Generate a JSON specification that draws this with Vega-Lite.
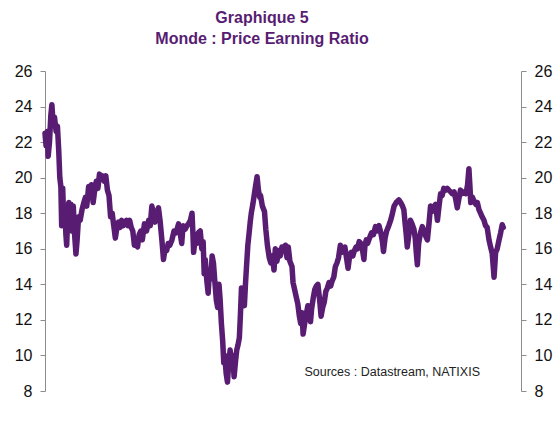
{
  "$schema": "https://vega.github.io/schema/vega-lite/v6.json",
  "width": 476,
  "height": 320,
  "autosize": {"type": "none"},
  "padding": {"left": 45, "top": 71, "right": 34, "bottom": 30},
  "background": "white",
  "config": {"view": {"stroke": null}, "font": "Liberation Sans"},
  "title": {
    "text": ["Graphique 5", "Monde : Price Earning Ratio"],
    "font": "Liberation Sans",
    "fontSize": 16,
    "fontWeight": "bold",
    "color": "#581d72",
    "lineHeight": 21,
    "anchor": "middle",
    "dx": -21,
    "offset": 16
  },
  "datasets": {
    "pe": [
      {"year": 2002.00, "pe": 22.5}, {"year": 2002.04, "pe": 21.8}, {"year": 2002.08, "pe": 22.6}, {"year": 2002.12, "pe": 21.2},
      {"year": 2002.17, "pe": 22.0}, {"year": 2002.22, "pe": 23.5}, {"year": 2002.26, "pe": 24.1}, {"year": 2002.30, "pe": 23.2},
      {"year": 2002.36, "pe": 23.4}, {"year": 2002.42, "pe": 22.6}, {"year": 2002.47, "pe": 22.9}, {"year": 2002.52, "pe": 21.5},
      {"year": 2002.56, "pe": 20.0}, {"year": 2002.60, "pe": 19.5}, {"year": 2002.63, "pe": 17.3}, {"year": 2002.67, "pe": 19.4},
      {"year": 2002.71, "pe": 17.5}, {"year": 2002.75, "pe": 18.4}, {"year": 2002.79, "pe": 16.8}, {"year": 2002.82, "pe": 16.2},
      {"year": 2002.86, "pe": 17.8}, {"year": 2002.90, "pe": 18.6}, {"year": 2002.94, "pe": 17.5}, {"year": 2002.98, "pe": 18.5},
      {"year": 2003.03, "pe": 17.0}, {"year": 2003.07, "pe": 18.4}, {"year": 2003.12, "pe": 16.8}, {"year": 2003.17, "pe": 15.7},
      {"year": 2003.21, "pe": 16.4}, {"year": 2003.27, "pe": 17.8}, {"year": 2003.33, "pe": 17.6}, {"year": 2003.40, "pe": 18.2},
      {"year": 2003.47, "pe": 18.6}, {"year": 2003.53, "pe": 18.9}, {"year": 2003.58, "pe": 18.4}, {"year": 2003.65, "pe": 19.5},
      {"year": 2003.70, "pe": 19.0}, {"year": 2003.76, "pe": 19.6}, {"year": 2003.82, "pe": 18.6}, {"year": 2003.88, "pe": 19.3},
      {"year": 2003.94, "pe": 19.8}, {"year": 2004.00, "pe": 19.4}, {"year": 2004.06, "pe": 20.2}, {"year": 2004.12, "pe": 19.9},
      {"year": 2004.18, "pe": 20.1}, {"year": 2004.24, "pe": 19.8}, {"year": 2004.30, "pe": 20.1}, {"year": 2004.36, "pe": 19.3},
      {"year": 2004.42, "pe": 19.0}, {"year": 2004.48, "pe": 17.8}, {"year": 2004.54, "pe": 18.0}, {"year": 2004.60, "pe": 17.3},
      {"year": 2004.66, "pe": 16.6}, {"year": 2004.72, "pe": 17.2}, {"year": 2004.78, "pe": 17.5}, {"year": 2004.84, "pe": 17.2},
      {"year": 2004.90, "pe": 17.6}, {"year": 2004.96, "pe": 17.3}, {"year": 2005.02, "pe": 17.5}, {"year": 2005.08, "pe": 17.6},
      {"year": 2005.14, "pe": 17.3}, {"year": 2005.20, "pe": 17.6}, {"year": 2005.26, "pe": 17.2}, {"year": 2005.32, "pe": 17.0},
      {"year": 2005.38, "pe": 16.2}, {"year": 2005.44, "pe": 16.3}, {"year": 2005.50, "pe": 16.1}, {"year": 2005.56, "pe": 16.8},
      {"year": 2005.62, "pe": 17.0}, {"year": 2005.68, "pe": 16.5}, {"year": 2005.76, "pe": 17.4}, {"year": 2005.84, "pe": 17.0},
      {"year": 2005.92, "pe": 17.6}, {"year": 2005.98, "pe": 17.3}, {"year": 2006.04, "pe": 18.4}, {"year": 2006.10, "pe": 18.0},
      {"year": 2006.16, "pe": 17.5}, {"year": 2006.22, "pe": 18.0}, {"year": 2006.29, "pe": 18.3}, {"year": 2006.35, "pe": 17.6},
      {"year": 2006.42, "pe": 16.5}, {"year": 2006.48, "pe": 15.4}, {"year": 2006.54, "pe": 16.0}, {"year": 2006.60, "pe": 15.9},
      {"year": 2006.66, "pe": 16.3}, {"year": 2006.72, "pe": 16.2}, {"year": 2006.80, "pe": 16.5}, {"year": 2006.88, "pe": 17.0},
      {"year": 2006.96, "pe": 16.9}, {"year": 2007.05, "pe": 17.4}, {"year": 2007.11, "pe": 16.9}, {"year": 2007.17, "pe": 16.3},
      {"year": 2007.22, "pe": 17.3}, {"year": 2007.30, "pe": 17.1}, {"year": 2007.37, "pe": 17.3}, {"year": 2007.43, "pe": 17.4},
      {"year": 2007.50, "pe": 17.6}, {"year": 2007.56, "pe": 18.0}, {"year": 2007.59, "pe": 17.0}, {"year": 2007.62, "pe": 15.8},
      {"year": 2007.68, "pe": 16.6}, {"year": 2007.74, "pe": 16.3}, {"year": 2007.80, "pe": 16.9}, {"year": 2007.87, "pe": 17.0},
      {"year": 2007.93, "pe": 16.0}, {"year": 2007.98, "pe": 16.4}, {"year": 2008.02, "pe": 14.6}, {"year": 2008.06, "pe": 15.4},
      {"year": 2008.12, "pe": 14.2}, {"year": 2008.17, "pe": 13.5}, {"year": 2008.22, "pe": 14.8}, {"year": 2008.27, "pe": 14.3},
      {"year": 2008.32, "pe": 15.6}, {"year": 2008.37, "pe": 15.2}, {"year": 2008.42, "pe": 14.2}, {"year": 2008.48, "pe": 13.1},
      {"year": 2008.53, "pe": 12.7}, {"year": 2008.58, "pe": 14.0}, {"year": 2008.62, "pe": 13.2}, {"year": 2008.67, "pe": 11.8},
      {"year": 2008.72, "pe": 10.8}, {"year": 2008.76, "pe": 9.6}, {"year": 2008.80, "pe": 10.0}, {"year": 2008.85, "pe": 9.0},
      {"year": 2008.90, "pe": 8.5}, {"year": 2008.94, "pe": 9.4}, {"year": 2009.00, "pe": 10.3}, {"year": 2009.05, "pe": 9.5},
      {"year": 2009.10, "pe": 10.0}, {"year": 2009.15, "pe": 8.8}, {"year": 2009.20, "pe": 9.6}, {"year": 2009.25, "pe": 10.3},
      {"year": 2009.30, "pe": 10.6}, {"year": 2009.35, "pe": 11.0}, {"year": 2009.39, "pe": 12.3}, {"year": 2009.43, "pe": 13.8},
      {"year": 2009.48, "pe": 13.2}, {"year": 2009.54, "pe": 12.8}, {"year": 2009.58, "pe": 14.0}, {"year": 2009.62, "pe": 15.0},
      {"year": 2009.67, "pe": 16.2}, {"year": 2009.72, "pe": 16.9}, {"year": 2009.76, "pe": 17.5}, {"year": 2009.80, "pe": 18.0},
      {"year": 2009.86, "pe": 18.5}, {"year": 2009.92, "pe": 19.1}, {"year": 2009.97, "pe": 19.6}, {"year": 2010.02, "pe": 20.05},
      {"year": 2010.07, "pe": 19.3}, {"year": 2010.12, "pe": 18.9}, {"year": 2010.15, "pe": 19.0}, {"year": 2010.22, "pe": 18.4},
      {"year": 2010.30, "pe": 18.1}, {"year": 2010.35, "pe": 17.1}, {"year": 2010.41, "pe": 16.2}, {"year": 2010.48, "pe": 15.5},
      {"year": 2010.54, "pe": 15.2}, {"year": 2010.60, "pe": 15.6}, {"year": 2010.66, "pe": 14.8}, {"year": 2010.71, "pe": 16.0},
      {"year": 2010.77, "pe": 15.3}, {"year": 2010.84, "pe": 15.9}, {"year": 2010.90, "pe": 15.6}, {"year": 2010.96, "pe": 16.1},
      {"year": 2011.02, "pe": 15.9}, {"year": 2011.09, "pe": 16.2}, {"year": 2011.15, "pe": 15.5}, {"year": 2011.20, "pe": 16.1},
      {"year": 2011.26, "pe": 15.3}, {"year": 2011.34, "pe": 15.0}, {"year": 2011.38, "pe": 14.1}, {"year": 2011.44, "pe": 13.7},
      {"year": 2011.50, "pe": 13.3}, {"year": 2011.56, "pe": 12.9}, {"year": 2011.62, "pe": 12.2}, {"year": 2011.67, "pe": 11.8},
      {"year": 2011.72, "pe": 12.4}, {"year": 2011.76, "pe": 11.2}, {"year": 2011.82, "pe": 11.8}, {"year": 2011.88, "pe": 12.3},
      {"year": 2011.94, "pe": 12.8}, {"year": 2012.00, "pe": 12.7}, {"year": 2012.04, "pe": 11.9}, {"year": 2012.08, "pe": 12.6},
      {"year": 2012.14, "pe": 13.2}, {"year": 2012.20, "pe": 13.7}, {"year": 2012.26, "pe": 13.9}, {"year": 2012.32, "pe": 14.0},
      {"year": 2012.38, "pe": 13.2}, {"year": 2012.44, "pe": 12.2}, {"year": 2012.50, "pe": 12.7}, {"year": 2012.56, "pe": 13.0},
      {"year": 2012.62, "pe": 13.6}, {"year": 2012.68, "pe": 13.8}, {"year": 2012.74, "pe": 14.1}, {"year": 2012.80, "pe": 13.9},
      {"year": 2012.86, "pe": 14.2}, {"year": 2012.92, "pe": 14.4}, {"year": 2012.98, "pe": 15.0}, {"year": 2013.04, "pe": 15.2},
      {"year": 2013.10, "pe": 15.5}, {"year": 2013.17, "pe": 16.2}, {"year": 2013.22, "pe": 15.8}, {"year": 2013.28, "pe": 15.9},
      {"year": 2013.34, "pe": 16.1}, {"year": 2013.40, "pe": 15.5}, {"year": 2013.46, "pe": 14.9}, {"year": 2013.52, "pe": 15.6},
      {"year": 2013.58, "pe": 15.8}, {"year": 2013.64, "pe": 15.6}, {"year": 2013.70, "pe": 15.9}, {"year": 2013.76, "pe": 16.1},
      {"year": 2013.82, "pe": 16.0}, {"year": 2013.88, "pe": 16.4}, {"year": 2013.94, "pe": 16.3}, {"year": 2014.00, "pe": 16.0},
      {"year": 2014.06, "pe": 15.4}, {"year": 2014.10, "pe": 16.2}, {"year": 2014.15, "pe": 16.5}, {"year": 2014.20, "pe": 16.3},
      {"year": 2014.27, "pe": 16.6}, {"year": 2014.35, "pe": 16.9}, {"year": 2014.42, "pe": 16.8}, {"year": 2014.50, "pe": 17.25},
      {"year": 2014.56, "pe": 17.0}, {"year": 2014.63, "pe": 17.3}, {"year": 2014.70, "pe": 16.9}, {"year": 2014.76, "pe": 16.4},
      {"year": 2014.80, "pe": 15.85}, {"year": 2014.86, "pe": 16.6}, {"year": 2014.92, "pe": 17.0}, {"year": 2015.00, "pe": 17.3},
      {"year": 2015.07, "pe": 17.6}, {"year": 2015.14, "pe": 18.0}, {"year": 2015.20, "pe": 18.4}, {"year": 2015.28, "pe": 18.6},
      {"year": 2015.38, "pe": 18.75}, {"year": 2015.45, "pe": 18.6}, {"year": 2015.52, "pe": 18.4}, {"year": 2015.57, "pe": 18.2},
      {"year": 2015.62, "pe": 17.4}, {"year": 2015.66, "pe": 16.8}, {"year": 2015.70, "pe": 16.1}, {"year": 2015.76, "pe": 16.8},
      {"year": 2015.82, "pe": 17.6}, {"year": 2015.88, "pe": 17.4}, {"year": 2015.95, "pe": 17.1}, {"year": 2016.00, "pe": 16.6},
      {"year": 2016.04, "pe": 15.8}, {"year": 2016.08, "pe": 15.1}, {"year": 2016.13, "pe": 16.3}, {"year": 2016.20, "pe": 16.9},
      {"year": 2016.27, "pe": 17.25}, {"year": 2016.33, "pe": 17.0}, {"year": 2016.40, "pe": 16.7}, {"year": 2016.46, "pe": 16.5},
      {"year": 2016.52, "pe": 17.4}, {"year": 2016.58, "pe": 18.4}, {"year": 2016.64, "pe": 18.1}, {"year": 2016.70, "pe": 18.3},
      {"year": 2016.77, "pe": 18.5}, {"year": 2016.84, "pe": 17.6}, {"year": 2016.90, "pe": 18.4}, {"year": 2016.96, "pe": 19.1},
      {"year": 2017.02, "pe": 19.0}, {"year": 2017.08, "pe": 19.4}, {"year": 2017.15, "pe": 19.3}, {"year": 2017.21, "pe": 19.4},
      {"year": 2017.27, "pe": 19.3}, {"year": 2017.34, "pe": 19.2}, {"year": 2017.40, "pe": 19.1}, {"year": 2017.47, "pe": 19.2},
      {"year": 2017.53, "pe": 18.8}, {"year": 2017.59, "pe": 18.3}, {"year": 2017.65, "pe": 18.8}, {"year": 2017.71, "pe": 19.3},
      {"year": 2017.78, "pe": 19.1}, {"year": 2017.85, "pe": 19.2}, {"year": 2017.92, "pe": 19.1}, {"year": 2017.98, "pe": 19.6},
      {"year": 2018.03, "pe": 20.5}, {"year": 2018.07, "pe": 19.5}, {"year": 2018.10, "pe": 18.6}, {"year": 2018.16, "pe": 18.9},
      {"year": 2018.22, "pe": 18.7}, {"year": 2018.29, "pe": 18.5}, {"year": 2018.35, "pe": 18.6}, {"year": 2018.41, "pe": 18.2},
      {"year": 2018.47, "pe": 18.0}, {"year": 2018.53, "pe": 17.8}, {"year": 2018.60, "pe": 17.6}, {"year": 2018.66, "pe": 17.3},
      {"year": 2018.72, "pe": 17.2}, {"year": 2018.79, "pe": 16.5}, {"year": 2018.85, "pe": 16.1}, {"year": 2018.91, "pe": 15.75},
      {"year": 2018.95, "pe": 15.0}, {"year": 2018.98, "pe": 14.4}, {"year": 2019.02, "pe": 15.3}, {"year": 2019.04, "pe": 15.8},
      {"year": 2019.10, "pe": 16.0}, {"year": 2019.17, "pe": 16.5}, {"year": 2019.23, "pe": 16.9}, {"year": 2019.29, "pe": 17.35},
      {"year": 2019.33, "pe": 17.2}
    ],
    "note": [{"year": 2015.13, "pe": 9.05, "label": "Sources  : Datastream,  NATIXIS"}]
  },
  "layer": [
    {
      "data": {"name": "pe"},
      "mark": {"type": "line", "color": "#581d72", "strokeWidth": 5.5, "strokeJoin": "round", "strokeCap": "round"},
      "encoding": {
        "x": {
          "field": "year", "type": "quantitative",
          "scale": {"domain": [2002, 2020], "nice": false, "zero": false},
          "axis": {
            "title": null, "values": [2002, 2004, 2006, 2008, 2010, 2012, 2014, 2016, 2018],
            "labelExpr": "substring(toString(datum.value), 2, 4)",
            "grid": false, "domainColor": "#8c8c8c", "tickColor": "#8c8c8c", "tickSize": 5,
            "labelFontSize": 16, "labelColor": "#111111", "labelPadding": 6, "labelFont": "Liberation Sans"
          }
        },
        "y": {
          "field": "pe", "type": "quantitative",
          "scale": {"domain": [8, 26], "nice": false, "zero": false},
          "axis": {
            "title": null, "orient": "left", "values": [8, 10, 12, 14, 16, 18, 20, 22, 24, 26],
            "grid": false, "domainColor": "#8c8c8c", "tickColor": "#8c8c8c", "tickSize": 5,
            "labelFontSize": 16, "labelColor": "#111111", "labelPadding": 8, "labelFont": "Liberation Sans"
          }
        }
      }
    },
    {
      "data": {"name": "pe"},
      "mark": {"type": "line", "opacity": 0},
      "encoding": {
        "x": {"field": "year", "type": "quantitative", "scale": {"domain": [2002, 2020], "nice": false, "zero": false}},
        "y": {
          "field": "pe", "type": "quantitative",
          "scale": {"domain": [8, 26], "nice": false, "zero": false},
          "axis": {
            "title": null, "orient": "right", "values": [8, 10, 12, 14, 16, 18, 20, 22, 24, 26],
            "grid": false, "domainColor": "#8c8c8c", "tickColor": "#8c8c8c", "tickSize": 5,
            "labelFontSize": 16, "labelColor": "#111111", "labelPadding": 8, "labelFont": "Liberation Sans"
          }
        }
      }
    },
    {
      "data": {"name": "note"},
      "mark": {"type": "text", "fontSize": 12.5, "color": "#222222", "font": "Liberation Sans", "align": "center", "baseline": "middle"},
      "encoding": {
        "x": {"field": "year", "type": "quantitative", "scale": {"domain": [2002, 2020], "nice": false, "zero": false}, "axis": null},
        "y": {"field": "pe", "type": "quantitative", "scale": {"domain": [8, 26], "nice": false, "zero": false}, "axis": null},
        "text": {"field": "label"}
      }
    }
  ],
  "resolve": {"scale": {"y": "independent"}}
}
